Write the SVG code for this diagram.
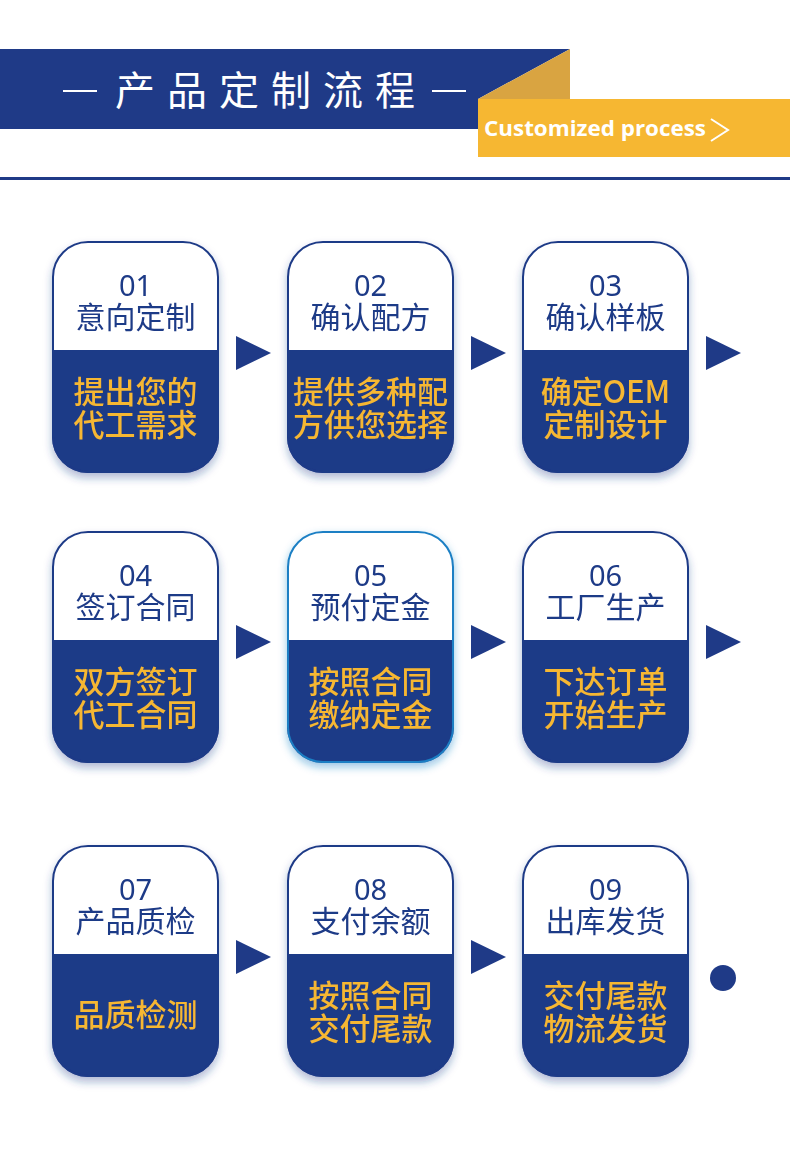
<svg xmlns="http://www.w3.org/2000/svg" width="790" height="1158" viewBox="0 0 790 1158">
<defs>
<style>
.num{font-family:"Noto Sans","Noto Sans CJK SC",sans-serif;font-size:29px;fill:#1f3a87;text-anchor:middle}
.ttl{font-family:"Noto Sans CJK SC",sans-serif;font-size:30px;fill:#1f3a87;text-anchor:middle}
.sub{font-family:"Noto Sans CJK SC",sans-serif;font-size:31px;fill:#f6b732;text-anchor:middle;font-weight:500}
.arrow{fill:#1f3a87}
</style>
<filter id="sh" x="-20%" y="-20%" width="140%" height="140%">
<feDropShadow dx="0" dy="5" stdDeviation="4" flood-color="#1f3a87" flood-opacity="0.35"/>
</filter>
<filter id="glow" x="-20%" y="-20%" width="140%" height="140%">
<feDropShadow dx="0" dy="4" stdDeviation="4" flood-color="#1a7fc4" flood-opacity="0.45"/>
</filter>
<clipPath id="cc"><rect x="0" y="0" width="167" height="232" rx="36"/></clipPath>
<g id="card">
<rect x="0" y="0" width="167" height="232" rx="36" fill="#ffffff"/>
<rect x="0" y="109" width="167" height="123" fill="#1f3a87" clip-path="url(#cc)"/>
</g>
</defs>
<rect width="790" height="1158" fill="#ffffff"/>

<g id="header">
<polygon points="0,49 570,49 478,99 478,129 0,129" fill="#1f3a87"/>
<polygon points="570,49 570,99 478,99" fill="#d9a441"/>
<rect x="478" y="99" width="312" height="58" fill="#f6b732"/>
<line x1="63" y1="91" x2="97" y2="91" stroke="#ffffff" stroke-width="2"/>
<line x1="432" y1="91" x2="466" y2="91" stroke="#ffffff" stroke-width="2"/>
<text x="271" y="105" font-family="Noto Sans CJK SC, sans-serif" font-size="40" fill="#ffffff" text-anchor="middle" letter-spacing="12">产品定制流程</text>
<text x="484" y="136" font-family="'Open Sans', Lato, sans-serif" font-size="22" font-weight="bold" fill="#ffffff" textLength="222" lengthAdjust="spacingAndGlyphs">Customized process</text>
<polyline points="711,119 728,130 711,141" fill="none" stroke="#ffffff" stroke-width="2"/>
<rect x="0" y="177" width="790" height="3" fill="#1f3a87"/>
</g>

<g id="node1" transform="translate(52,241)" filter="url(#sh)">
<use href="#card"/>
<rect x="1" y="1" width="165" height="230" rx="35" fill="none" stroke="#1f3a87" stroke-width="2"/>
<text class="num" x="83.5" y="55">01</text>
<text class="ttl" x="83.5" y="87">意向定制</text>
<text class="sub" x="83.5" y="162">提出您的</text>
<text class="sub" x="83.5" y="195">代工需求</text>
</g>
<g id="node2" transform="translate(287,241)" filter="url(#sh)">
<use href="#card"/>
<rect x="1" y="1" width="165" height="230" rx="35" fill="none" stroke="#1f3a87" stroke-width="2"/>
<text class="num" x="83.5" y="55">02</text>
<text class="ttl" x="83.5" y="87">确认配方</text>
<text class="sub" x="83.5" y="162">提供多种配</text>
<text class="sub" x="83.5" y="195">方供您选择</text>
</g>
<g id="node3" transform="translate(522,241)" filter="url(#sh)">
<use href="#card"/>
<rect x="1" y="1" width="165" height="230" rx="35" fill="none" stroke="#1f3a87" stroke-width="2"/>
<text class="num" x="83.5" y="55">03</text>
<text class="ttl" x="83.5" y="87">确认样板</text>
<text class="sub" x="83.5" y="162">确定OEM</text>
<text class="sub" x="83.5" y="195">定制设计</text>
</g>

<g id="node4" transform="translate(52,531)" filter="url(#sh)">
<use href="#card"/>
<rect x="1" y="1" width="165" height="230" rx="35" fill="none" stroke="#1f3a87" stroke-width="2"/>
<text class="num" x="83.5" y="55">04</text>
<text class="ttl" x="83.5" y="87">签订合同</text>
<text class="sub" x="83.5" y="162">双方签订</text>
<text class="sub" x="83.5" y="195">代工合同</text>
</g>
<g id="node5" transform="translate(287,531)" filter="url(#glow)">
<use href="#card"/>
<rect x="1" y="1" width="165" height="230" rx="35" fill="none" stroke="#1a7fc4" stroke-width="2"/>
<text class="num" x="83.5" y="55">05</text>
<text class="ttl" x="83.5" y="87">预付定金</text>
<text class="sub" x="83.5" y="162">按照合同</text>
<text class="sub" x="83.5" y="195">缴纳定金</text>
</g>
<g id="node6" transform="translate(522,531)" filter="url(#sh)">
<use href="#card"/>
<rect x="1" y="1" width="165" height="230" rx="35" fill="none" stroke="#1f3a87" stroke-width="2"/>
<text class="num" x="83.5" y="55">06</text>
<text class="ttl" x="83.5" y="87">工厂生产</text>
<text class="sub" x="83.5" y="162">下达订单</text>
<text class="sub" x="83.5" y="195">开始生产</text>
</g>

<g id="node7" transform="translate(52,845)" filter="url(#sh)">
<use href="#card"/>
<rect x="1" y="1" width="165" height="230" rx="35" fill="none" stroke="#1f3a87" stroke-width="2"/>
<text class="num" x="83.5" y="55">07</text>
<text class="ttl" x="83.5" y="87">产品质检</text>
<text class="sub" x="83.5" y="181">品质检测</text>
</g>
<g id="node8" transform="translate(287,845)" filter="url(#sh)">
<use href="#card"/>
<rect x="1" y="1" width="165" height="230" rx="35" fill="none" stroke="#1f3a87" stroke-width="2"/>
<text class="num" x="83.5" y="55">08</text>
<text class="ttl" x="83.5" y="87">支付余额</text>
<text class="sub" x="83.5" y="162">按照合同</text>
<text class="sub" x="83.5" y="195">交付尾款</text>
</g>
<g id="node9" transform="translate(522,845)" filter="url(#sh)">
<use href="#card"/>
<rect x="1" y="1" width="165" height="230" rx="35" fill="none" stroke="#1f3a87" stroke-width="2"/>
<text class="num" x="83.5" y="55">09</text>
<text class="ttl" x="83.5" y="87">出库发货</text>
<text class="sub" x="83.5" y="162">交付尾款</text>
<text class="sub" x="83.5" y="195">物流发货</text>
</g>

<g id="connectors">
<polygon class="arrow" points="236,336 271,353 236,370"/>
<polygon class="arrow" points="471,336 506,353 471,370"/>
<polygon class="arrow" points="706,336 741,353 706,370"/>
<polygon class="arrow" points="236,625 271,642 236,659"/>
<polygon class="arrow" points="471,625 506,642 471,659"/>
<polygon class="arrow" points="706,625 741,642 706,659"/>
<polygon class="arrow" points="236,940 271,957 236,974"/>
<polygon class="arrow" points="471,940 506,957 471,974"/>
<circle class="arrow" cx="723" cy="978" r="13"/>
</g>
</svg>
